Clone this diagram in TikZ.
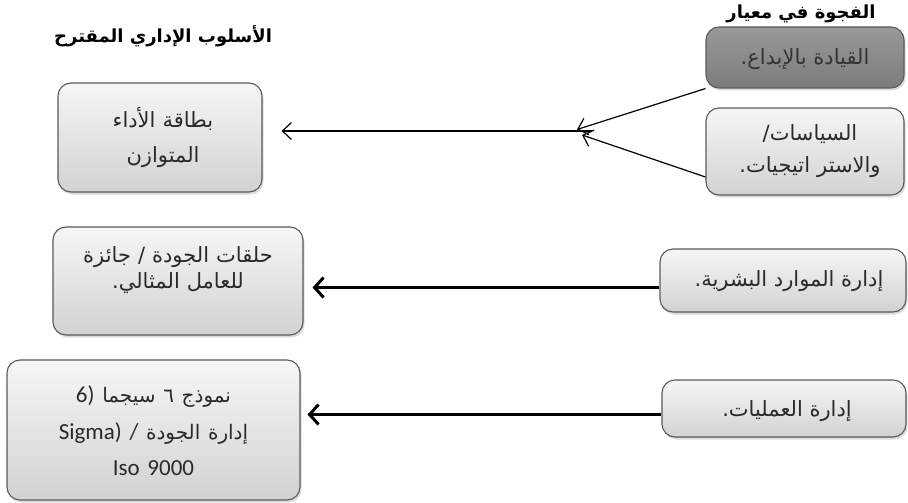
\documentclass[tikz,border=0pt]{standalone}
\usepackage{fontspec}
\setmainfont{Carlito}
\newfontfamily\arfont[Script=Arabic]{DejaVu Sans}
\TeXXeTstate=1
\usetikzlibrary{arrows.meta,shadows}
\newcommand\artxt[1]{{\arfont\beginR #1\endR}}
\definecolor{bordergray}{HTML}{5A5A5A}
\definecolor{txtgray}{HTML}{2A2A2A}
\definecolor{lighttop}{HTML}{F6F6F6}
\definecolor{lightbot}{HTML}{D2D2D2}
\definecolor{darktop}{HTML}{999999}
\definecolor{darkbot}{HTML}{7C7C7C}
\tikzset{
  box/.style={draw=bordergray, line width=1.1pt, rounded corners=13pt,
    top color=lighttop, bottom color=lightbot, text=txtgray,
    align=center, inner sep=0pt,
    drop shadow={opacity=0.28, shadow xshift=1.5pt, shadow yshift=-2.5pt}},
  darkbox/.style={box, top color=darktop, bottom color=darkbot, text=black!80},
  boxtext/.style={text=txtgray, align=center, inner sep=0pt},
  header/.style={font=\fontsize{18}{20}\selectfont\bfseries, text=black},
  thinarrow/.style={line width=1.2pt, -{Straight Barb[length=9pt,width=17pt,line width=1.2pt]}},
  thickarrow/.style={line width=3pt, -{Straight Barb[length=9pt,width=20pt,line width=3pt]}}
}
\begin{document}
\begin{tikzpicture}[x=1pt,y=-1pt]
\useasboundingbox (0,0) rectangle (908,503);
\fill[white] (0,0) rectangle (908,503);

% left header
\node[header] (hleft) at (163,36) {\artxt{الأسلوب الإداري المقترح}};

% right boxes
\node[darkbox, minimum width=198pt, minimum height=61pt] (lead) at (805,57.5) {};
\node[boxtext, text=black!80, font=\fontsize{21}{24}\selectfont] (leadt) at (805,59)
  {\artxt{القيادة بالإبداع.}};
\node[header] (hright) at (801,13.5) {\artxt{الفجوة في معيار}};
\node[box, minimum width=198pt, minimum height=87pt] (pol) at (805,151.5) {};
\node[boxtext, text width=190pt, font=\fontsize{21}{32}\selectfont] (polt) at (810,151.5)
  {\artxt{السياسات/}\\\artxt{والاستر اتيجيات.}};
\node[box, minimum width=246pt, minimum height=63pt] (hr) at (783,280.5) {};
\node[boxtext, font=\fontsize{21}{24}\selectfont] (hrt) at (789,281)
  {\artxt{إدارة الموارد البشرية.}};
\node[box, minimum width=244pt, minimum height=57pt] (ops) at (784,408.5) {};
\node[boxtext, font=\fontsize{21}{24}\selectfont] (opst) at (787,411)
  {\artxt{إدارة العمليات.}};

% left boxes
\node[box, minimum width=204pt, minimum height=109pt] (bsc) at (160,137.5) {};
\node[boxtext, text width=196pt, font=\fontsize{21}{35}\selectfont] (bsct) at (163,137.5)
  {\artxt{بطاقة الأداء}\\\artxt{المتوازن}};
\node[box, minimum width=250pt, minimum height=108pt] (qc) at (178,281) {};
\node[boxtext, text width=240pt, font=\fontsize{21}{26}\selectfont] (qct) at (178,270)
  {\artxt{حلقات الجودة / جائزة}\\\artxt{للعامل المثالي.}};
\node[box, minimum width=293pt, minimum height=140pt] (six) at (153.5,430) {};
\node[boxtext, text width=285pt, font=\fontsize{23}{36.5}\selectfont] (sixt) at (153.5,431)
  {6) \artxt{\fontsize{20}{36.5}\selectfont نموذج ٦ سيجما}\\
   Sigma) / \artxt{\fontsize{20}{36.5}\selectfont إدارة الجودة}\\
   Iso 9000};

% junction of the two gap arrows
\coordinate (j0) at (592,131);
\coordinate (j1) at (577,129.5);
\coordinate (j2) at (582,135);
\coordinate (hrs) at ([yshift=-7pt]hr.west);
\coordinate (opss) at ([yshift=-6pt]ops.west);

\draw[thinarrow, shorten >=19pt] (j0) -- (j0 -| bsc.east);
\draw[thinarrow] (lead.south west) -- (j1);
\draw[thinarrow] ([yshift=-25.5pt]pol.west) -- (j2);

\draw[thickarrow, shorten >=9pt] (hrs) -- (hrs -| qc.east);
\draw[thickarrow, shorten >=7pt] (opss) -- (opss -| six.east);
\end{tikzpicture}
\end{document}
